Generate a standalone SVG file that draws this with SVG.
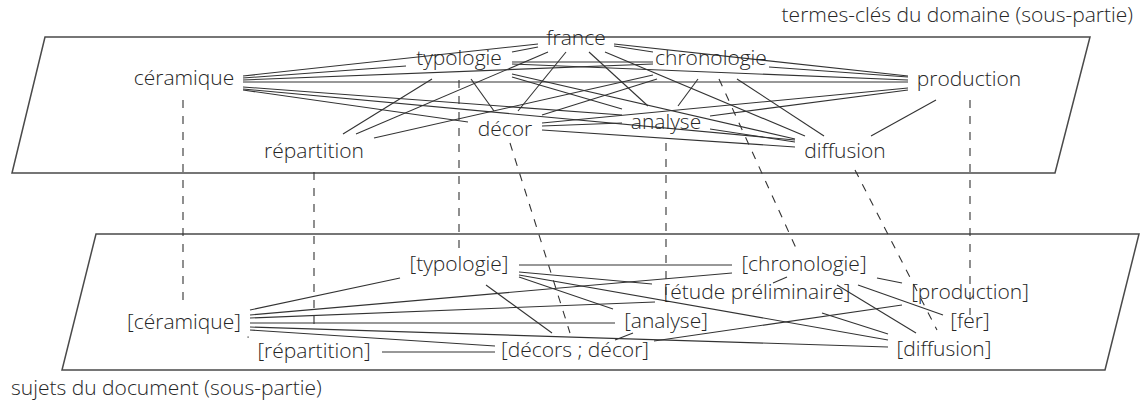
<svg xmlns="http://www.w3.org/2000/svg" width="1144" height="400" viewBox="0 0 1144 400">
  <style>
    .plane { fill: #ffffff; stroke: #4a4a4a; stroke-width: 1.5; }
    .e { stroke: #333333; stroke-width: 1.1; fill: none; }
    .m { stroke: #333333; stroke-width: 1.1; fill: none; stroke-dasharray: 8 8; }
    text { font-family: "Open Sans", "Noto Sans", "DejaVu Sans", sans-serif; font-weight: 300; font-size: 21px; fill: #262626; }
    .lbl { text-anchor: middle; }
  </style>

  <!-- two planes: domain key terms (top) and document subjects (bottom) -->
  <g id="planes">
    <polygon class="plane" points="45,37 1090,37 1055,173 12,173"/>
    <polygon class="plane" points="96,234 1139,234 1105,370 62,370"/>
  </g>

  <g id="captions">
    <text x="1133" y="22" text-anchor="end">termes-clés du domaine (sous-partie)</text>
    <text x="11" y="395">sujets du document (sous-partie)</text>
  </g>

  <g id="connectors">
    <!-- co-occurrence links between domain terms -->
    <g id="top-links">
      <line class="e" x1="243" y1="76" x2="538" y2="44"/>
      <line class="e" x1="243" y1="78" x2="406" y2="66"/>
      <line class="e" x1="243" y1="80" x2="653" y2="64"/>
      <line class="e" x1="243" y1="82" x2="908" y2="82"/>
      <line class="e" x1="243" y1="90" x2="468" y2="122"/>
      <line class="e" x1="243" y1="87" x2="622" y2="115"/>
      <line class="e" x1="243" y1="89" x2="795" y2="140"/>
      <line class="e" x1="512" y1="52" x2="538" y2="47"/>
      <line class="e" x1="614" y1="46" x2="653" y2="52"/>
      <line class="e" x1="614" y1="44" x2="908" y2="76"/>
      <line class="e" x1="548" y1="52" x2="356" y2="134"/>
      <line class="e" x1="566" y1="52" x2="518" y2="111"/>
      <line class="e" x1="589" y1="52" x2="648" y2="106"/>
      <line class="e" x1="605" y1="52" x2="805" y2="136"/>
      <line class="e" x1="512" y1="62" x2="653" y2="62"/>
      <line class="e" x1="512" y1="64" x2="908" y2="80"/>
      <line class="e" x1="432" y1="79" x2="343" y2="134"/>
      <line class="e" x1="471" y1="79" x2="494" y2="111"/>
      <line class="e" x1="512" y1="77" x2="622" y2="109"/>
      <line class="e" x1="512" y1="74" x2="795" y2="139"/>
      <line class="e" x1="769" y1="67" x2="908" y2="77"/>
      <line class="e" x1="653" y1="75" x2="374" y2="138"/>
      <line class="e" x1="657" y1="79" x2="542" y2="115"/>
      <line class="e" x1="698" y1="79" x2="678" y2="106"/>
      <line class="e" x1="737" y1="79" x2="824" y2="136"/>
      <line class="e" x1="908" y1="88" x2="542" y2="123"/>
      <line class="e" x1="908" y1="90" x2="710" y2="116"/>
      <line class="e" x1="936" y1="100" x2="871" y2="136"/>
      <line class="e" x1="542" y1="126" x2="622" y2="123"/>
      <line class="e" x1="542" y1="130" x2="795" y2="147"/>
      <line class="e" x1="710" y1="129" x2="795" y2="142"/>
    </g>

    <!-- co-occurrence links between document subjects -->
    <g id="bottom-links">
      <line class="e" x1="250" y1="310" x2="400" y2="278"/>
      <line class="e" x1="250" y1="315" x2="732" y2="273"/>
      <line class="e" x1="250" y1="318" x2="655" y2="302"/>
      <line class="e" x1="250" y1="323" x2="615" y2="323"/>
      <line class="e" x1="250" y1="327" x2="888" y2="347"/>
      <line class="e" x1="250" y1="330" x2="495" y2="346"/>
      <line class="e" x1="382" y1="352" x2="495" y2="352"/>
      <line class="e" x1="519" y1="265" x2="732" y2="265"/>
      <line class="e" x1="519" y1="272" x2="652" y2="284"/>
      <line class="e" x1="519" y1="275" x2="888" y2="340"/>
      <line class="e" x1="519" y1="277" x2="613" y2="309"/>
      <line class="e" x1="486" y1="285" x2="552" y2="333"/>
      <line class="e" x1="773" y1="283" x2="787" y2="277"/>
      <line class="e" x1="877" y1="278" x2="902" y2="283"/>
      <line class="e" x1="858" y1="285" x2="943" y2="315"/>
      <line class="e" x1="837" y1="285" x2="916" y2="333"/>
      <line class="e" x1="822" y1="313" x2="888" y2="334"/>
      <line class="e" x1="902" y1="305" x2="654" y2="341"/>
      <line class="e" x1="615" y1="340" x2="633" y2="333"/>
    </g>

    <!-- term to subject correspondences -->
    <g id="mappings">
      <line class="m" x1="183" y1="100" x2="183" y2="300"/>
      <line class="m" x1="314" y1="172" x2="314" y2="332"/>
      <line class="m" x1="459" y1="80" x2="459" y2="248"/>
      <line class="m" x1="719" y1="79" x2="796" y2="248"/>
      <line class="m" x1="510" y1="143" x2="570" y2="333"/>
      <line class="m" x1="666" y1="143" x2="666" y2="300"/>
      <line class="m" x1="855" y1="170" x2="937" y2="330"/>
      <line class="m" x1="970" y1="100" x2="970" y2="315"/>
      <rect x="247.5" y="336.5" width="1.2" height="1.2" fill="#333333"/>
    </g>
  </g>

  <!-- domain terms -->
  <g id="n-france"><text class="lbl" x="576" y="45">france</text></g>
  <g id="n-typologie"><text class="lbl" x="459" y="65">typologie</text></g>
  <g id="n-chronologie"><text class="lbl" x="711" y="65">chronologie</text></g>
  <g id="n-ceramique"><text class="lbl" x="184" y="85">céramique</text></g>
  <g id="n-production"><text class="lbl" x="969" y="86">production</text></g>
  <g id="n-decor"><text class="lbl" x="505" y="136">décor</text></g>
  <g id="n-analyse"><text class="lbl" x="666" y="129">analyse</text></g>
  <g id="n-repartition"><text class="lbl" x="314" y="158">répartition</text></g>
  <g id="n-diffusion"><text class="lbl" x="845" y="158">diffusion</text></g>

  <!-- document subjects -->
  <g id="s-ceramique"><text class="lbl" x="184" y="329">[céramique]</text></g>
  <g id="s-repartition"><text class="lbl" x="314" y="358">[répartition]</text></g>
  <g id="s-typologie"><text class="lbl" x="459" y="271">[typologie]</text></g>
  <g id="s-chronologie"><text class="lbl" x="804" y="271">[chronologie]</text></g>
  <g id="s-etude"><text class="lbl" x="757" y="299">[étude préliminaire]</text></g>
  <g id="s-production"><text class="lbl" x="970" y="299">[production]</text></g>
  <g id="s-analyse"><text class="lbl" x="666" y="328">[analyse]</text></g>
  <g id="s-fer"><text class="lbl" x="970" y="328">[fer]</text></g>
  <g id="s-decors"><text class="lbl" x="575" y="357">[décors ; décor]</text></g>
  <g id="s-diffusion"><text class="lbl" x="944" y="356">[diffusion]</text></g>
</svg>
